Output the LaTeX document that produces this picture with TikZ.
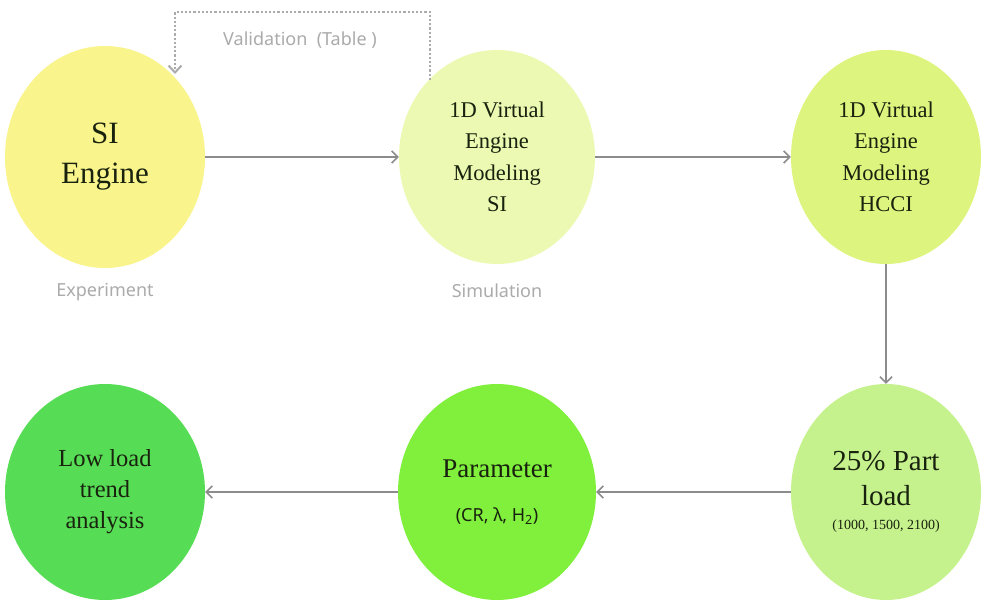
\documentclass[tikz,border=0pt]{standalone}
\usepackage{fontspec}
\setmainfont{Liberation Serif}
\newfontfamily\lblfont{Noto Sans}
\usetikzlibrary{shapes.geometric,arrows.meta}
\definecolor{cA}{HTML}{F9F58C}
\definecolor{cB}{HTML}{EBF9B2}
\definecolor{cC}{HTML}{DDF57E}
\definecolor{cD}{HTML}{C6F28E}
\definecolor{cE}{HTML}{80F03C}
\definecolor{cF}{HTML}{57DD55}
\definecolor{txt}{HTML}{18220E}
\definecolor{arr}{HTML}{8C8C8C}
\definecolor{lbl}{HTML}{ABABAB}
\tikzset{
  blob/.style={ellipse, inner sep=0pt, draw=none, text=txt, align=center},
  flow/.style={draw=arr, line width=1.6pt, -{Straight Barb[length=6pt,width=12pt,line width=1.6pt]}},
  valid/.style={draw=lbl, line width=2.2pt, dotted, -{Straight Barb[length=7pt,width=13pt,line width=2pt]}},
  graylbl/.style={text=lbl, font=\lblfont\fontsize{18}{22}\selectfont}
}
\begin{document}
\begin{tikzpicture}[x=1pt,y=-1pt]
\useasboundingbox (0,0) rectangle (982,601);
\fill[white] (0,0) rectangle (982,601);
% nodes
\node[blob, fill=cA, minimum width=200pt, minimum height=222pt, font=\fontsize{31}{40}\selectfont] (si) at (105,157) {SI\\Engine};
\node[blob, fill=cB, minimum width=196pt, minimum height=214pt, font=\fontsize{22.5}{31.5}\selectfont] (sim) at (497,157) {1D Virtual\\Engine\\Modeling\\SI};
\node[blob, fill=cC, minimum width=190pt, minimum height=214pt, font=\fontsize{22.5}{31.5}\selectfont] (hcci) at (886,157) {1D Virtual\\Engine\\Modeling\\HCCI};
\node[blob, fill=cD, minimum width=190pt, minimum height=216pt, font=\fontsize{29}{35}\selectfont] (part) at (886,492) {25\% Part\\load\\[-11pt]{\fontsize{14}{16}\selectfont(1000, 1500, 2100)}};
\node[blob, fill=cE, minimum width=198pt, minimum height=216pt, font=\fontsize{27}{34}\selectfont] (par) at (497,492) {Parameter\\[10pt]{\lblfont\fontsize{18}{20}\selectfont(CR, λ, H\textsubscript{2})}};
\node[blob, fill=cF, minimum width=200pt, minimum height=216pt, font=\fontsize{24.5}{31}\selectfont] (low) at (105,492) {Low load\\trend\\analysis};
% gray labels
\node[graylbl] (exp) at (105,292) {Experiment};
\node[graylbl] (simlbl) at (497,291) {Simulation};
\node[graylbl] (vlbl) at (300,40) {Validation\ \ (Table )};
% connectors
\draw[flow] (si) -- (sim);
\draw[flow] (sim) -- (hcci);
\draw[flow] (hcci) -- (part);
\draw[flow] (part) -- (par);
\draw[flow] (par) -- (low);
\coordinate (vs) at (430,80);
\coordinate (ve) at (175,74);
\draw[valid] (vs) -- (430,12) -- (175,12) -- (ve);
\end{tikzpicture}
\end{document}
